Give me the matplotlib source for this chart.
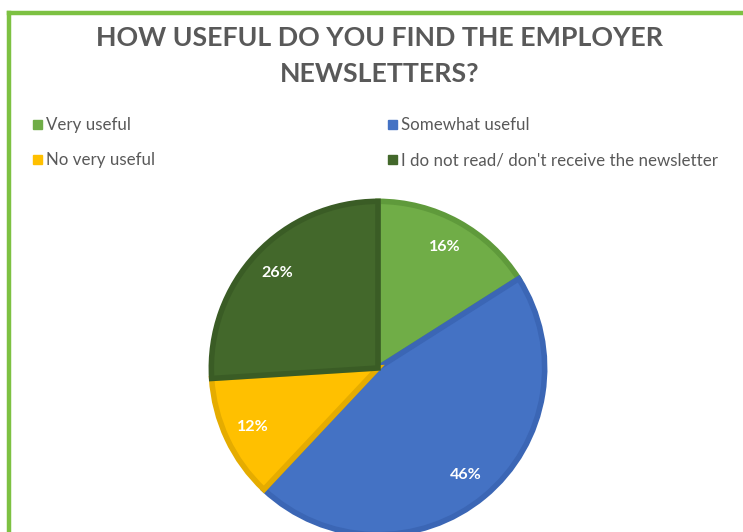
import matplotlib
matplotlib.use("Agg")
import matplotlib.pyplot as plt
from matplotlib.patches import Rectangle
from matplotlib.lines import Line2D

plt.rcParams['font.family'] = ['Lato', 'DejaVu Sans']

# survey answers
labels = ["Very useful", "Somewhat useful", "No very useful",
          "I do not read/ don't receive the newsletter"]
shares = [16, 46, 12, 26]
colors = ["#70AD47", "#4472C4", "#FFC000", "#43682B"]
edges = ["#5F9A3B", "#3B66B5", "#E5AC00", "#3A5C25"]
title = "HOW USEFUL DO YOU FIND THE EMPLOYER\nNEWSLETTERS?"

W, H = 743, 532
fig = plt.figure(figsize=(W / 100, H / 100), dpi=100)

# green frame along the top and left
fig.add_artist(Line2D([9 / W, 1], [1 - 13 / H, 1 - 13 / H], color="#7DC142", lw=3.2,
                      solid_capstyle="projecting"))
fig.add_artist(Line2D([9 / W, 9 / W], [0, 1 - 13 / H], color="#7DC142", lw=3.2,
                      solid_capstyle="projecting"))

fig.text(380 / W, 1 - 56 / H, title, ha="center", va="center", fontsize=19.3,
         fontweight="bold", color="#595959", linespacing=1.6)

# pie, centre at (378, 368) px with radius 170 px
cx, cy, r = 378, 368, 170
ax = fig.add_axes([(cx - r) / W, (H - cy - r) / H, 2 * r / W, 2 * r / H])
wedges, _, autotexts = ax.pie(shares, colors=colors, startangle=90, counterclock=False,
                              autopct="%d%%", pctdistance=0.83,
                              wedgeprops=dict(linewidth=4),
                              textprops=dict(color="white", fontsize=11.5, fontweight="bold"))
for w, ec in zip(wedges, edges):
    w.set_edgecolor(ec)
ax.set_xlim(-1.02, 1.02)
ax.set_ylim(-1.02, 1.02)
ax.axis("off")

# legend, two rows of two
rows = [125, 160]
cols = [33, 388]
for i, (lab, c) in enumerate(zip(labels, colors)):
    x = cols[i % 2]
    y = rows[i // 2]
    fig.add_artist(Rectangle((x / W, 1 - (y + 4) / H), 9 / W, 9 / H, color=c,
                             transform=fig.transFigure))
    fig.text((x + 13) / W, 1 - y / H, lab, ha="left", va="center", fontsize=12.2,
             color="#595959")

fig.savefig("out.png", dpi=100)
